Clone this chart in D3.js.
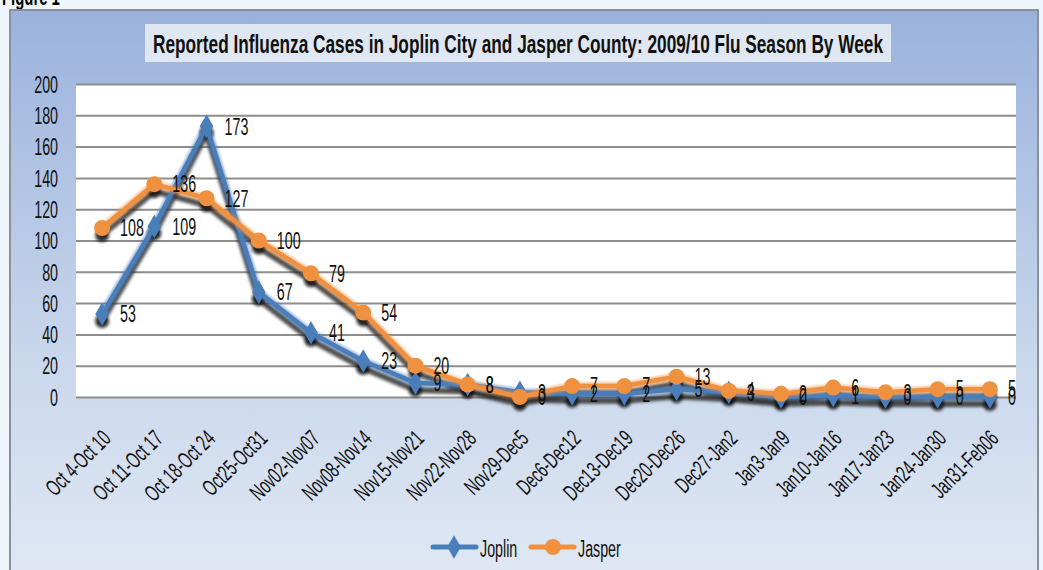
<!DOCTYPE html>
<html><head><meta charset="utf-8">
<script src="https://cdn.jsdelivr.net/npm/d3@7"></script>
<style>
body{margin:0;background:#eff6fb;}
text{font-family:"Liberation Sans",Arial,sans-serif;}
</style></head><body>
<svg id="c" width="1043" height="570"></svg>
<script>
const categories = ["Oct 4-Oct 10","Oct 11-Oct 17","Oct 18-Oct 24","Oct25-Oct31","Nov02-Nov07","Nov08-Nov14","Nov15-Nov21","Nov22-Nov28","Nov29-Dec5","Dec6-Dec12","Dec13-Dec19","Dec20-Dec26","Dec27-Jan2","Jan3-Jan9","Jan10-Jan16","Jan17-Jan23","Jan24-Jan30","Jan31-Feb06"];
const joplin = [53,109,173,67,41,23,9,8,3,2,2,5,3,0,1,0,0,0];
const jasper = [108,136,127,100,79,54,20,8,0,7,7,13,4,2,6,3,5,5];
const yTicks = [0,20,40,60,80,100,120,140,160,180,200];
const seriesNames = ["Joplin","Jasper"];
const title = "Reported Influenza Cases in Joplin City and Jasper County: 2009/10 Flu Season By Week";

const svg = d3.select("#c");
const defs = svg.append("defs");
const grad = defs.append("linearGradient").attr("id","bg").attr("x1",0).attr("y1",0).attr("x2",0).attr("y2",1);
grad.append("stop").attr("offset","0%").attr("stop-color","#9ab2dc");
grad.append("stop").attr("offset","60%").attr("stop-color","#c9d7ec");
grad.append("stop").attr("offset","100%").attr("stop-color","#e0e8f4");
const blur = defs.append("filter").attr("id","sh").attr("x","-10%").attr("y","-10%").attr("width","120%").attr("height","130%");
blur.append("feGaussianBlur").attr("stdDeviation",1.6);
const glow = defs.append("filter").attr("id","gl").attr("x","-10%").attr("y","-10%").attr("width","120%").attr("height","130%");
glow.append("feGaussianBlur").attr("stdDeviation",0.8);

// figure label (cut off at top edge as in the source)
svg.append("text").attr("class","cond").attr("x",2).attr("y",5).attr("font-size",24).attr("font-weight","bold").text("Figure 1");

// chart area
svg.append("rect").attr("x",10).attr("y",10).attr("width",1028).attr("height",575)
  .attr("fill","url(#bg)").attr("stroke","#8a9099").attr("stroke-width",2);

// title
svg.append("rect").attr("x",145).attr("y",24).attr("width",746).attr("height",38).attr("fill","#dfe7f2");
svg.append("text").attr("x",153).attr("y",53).attr("font-size",25)
  .attr("font-weight","bold").attr("fill","#111").attr("textLength",730).attr("lengthAdjust","spacingAndGlyphs").text(title);

const L=76,R=1016,T=84,B=397;
const x = d3.scaleBand().domain(categories).range([L,R]);
const y = d3.scaleLinear().domain([0,200]).range([B,T]);
const cx = d => x(d)+x.bandwidth()/2;

svg.append("rect").attr("x",L).attr("y",T).attr("width",R-L).attr("height",B-T).attr("fill","#fff");

// grid
const grid = svg.append("g").attr("transform",`translate(${L},0)`)
  .call(d3.axisLeft(y).tickValues(yTicks).tickSize(-(R-L)).tickFormat(""));
grid.select(".domain").remove();
grid.selectAll("line").attr("stroke","#8d8d8d").attr("stroke-width",2);

// y labels
const ya = svg.append("g").attr("transform",`translate(${L-18},0)`)
  .call(d3.axisLeft(y).tickValues(yTicks).tickSize(0).tickPadding(0));
ya.select(".domain").remove();
ya.selectAll("text").attr("class","cond").attr("font-size",23).attr("fill","#111").attr("dy","0.36em");

// x labels
const xa = svg.append("g").attr("transform",`translate(0,${B})`)
  .call(d3.axisBottom(x).tickSize(0).tickPadding(0));
xa.select(".domain").remove();
xa.selectAll("text").attr("class","cond").attr("font-size",23).attr("fill","#111")
  .attr("text-anchor","end").attr("dy",0).attr("y",0)
  .attr("transform","translate(10,43) rotate(-45)");
ya.attr("font-family",null).attr("font-size",null);
xa.attr("font-family",null).attr("font-size",null);

const line = d3.line().x((d,i)=>cx(categories[i])).y(d=>y(d));
const colors = {Joplin:"#4a7ebb",Jasper:"#f0913f"};
const data = {Joplin:joplin,Jasper:jasper};

// shadows
const shG = svg.append("g").attr("filter","url(#sh)").attr("transform","translate(0,7)");
seriesNames.forEach(n=>{
  shG.append("path").attr("d",line(data[n])).attr("fill","none").attr("stroke","#2e2e2e").attr("stroke-opacity",0.85).attr("stroke-width",6);
  shG.selectAll(null).data(data[n]).enter().append("circle")
    .attr("cx",(d,i)=>cx(categories[i])).attr("cy",d=>y(d)).attr("r",7).attr("fill","#111").attr("opacity",0.85);
});

const diamond = d3.symbol().type(d3.symbolDiamond).size(160);
seriesNames.forEach(n=>{
  const g = svg.append("g");
  g.append("path").attr("d",line(data[n])).attr("fill","none").attr("stroke",colors[n]).attr("stroke-opacity",0.5).attr("stroke-width",8).attr("filter","url(#gl)");
  g.append("path").attr("d",line(data[n])).attr("fill","none").attr("stroke",colors[n]).attr("stroke-width",4.5);
  if(n==="Joplin"){
    g.selectAll(null).data(data[n]).enter().append("path").attr("d",diamond)
      .attr("transform",(d,i)=>`translate(${cx(categories[i])},${y(d)})`).attr("fill",colors[n]);
  } else {
    g.selectAll(null).data(data[n]).enter().append("circle")
      .attr("cx",(d,i)=>cx(categories[i])).attr("cy",d=>y(d)).attr("r",8).attr("fill",colors[n]);
  }
});

// data labels
seriesNames.forEach(n=>{
  svg.append("g").selectAll(null).data(data[n]).enter().append("text").attr("class","cond")
    .attr("x",(d,i)=>cx(categories[i])+18).attr("y",d=>y(d)).attr("dy","0.36em")
    .attr("font-size",23).attr("fill","#111").text(d=>d);
});

// legend
const leg = [{n:"Joplin",x0:433},{n:"Jasper",x0:531}];
leg.forEach(l=>{
  const g = svg.append("g");
  g.append("line").attr("x1",l.x0).attr("x2",l.x0+43).attr("y1",547).attr("y2",547).attr("stroke",colors[l.n]).attr("stroke-width",5).attr("stroke-linecap","round");
  if(l.n==="Joplin") g.append("path").attr("d",diamond).attr("transform",`translate(${l.x0+21},547)`).attr("fill",colors[l.n]);
  else g.append("circle").attr("cx",l.x0+22).attr("cy",547).attr("r",8).attr("fill",colors[l.n]);
  g.append("text").attr("class","cond").attr("x",l.x0+47).attr("y",549).attr("dy","0.35em").attr("font-size",23).attr("fill","#111").text(l.n);
});

// condense text to mimic a narrow typeface
svg.selectAll("text.cond").each(function(){
  const w = this.getComputedTextLength();
  d3.select(this).attr("textLength", w*0.62).attr("lengthAdjust","spacingAndGlyphs");
});
</script></body></html>
